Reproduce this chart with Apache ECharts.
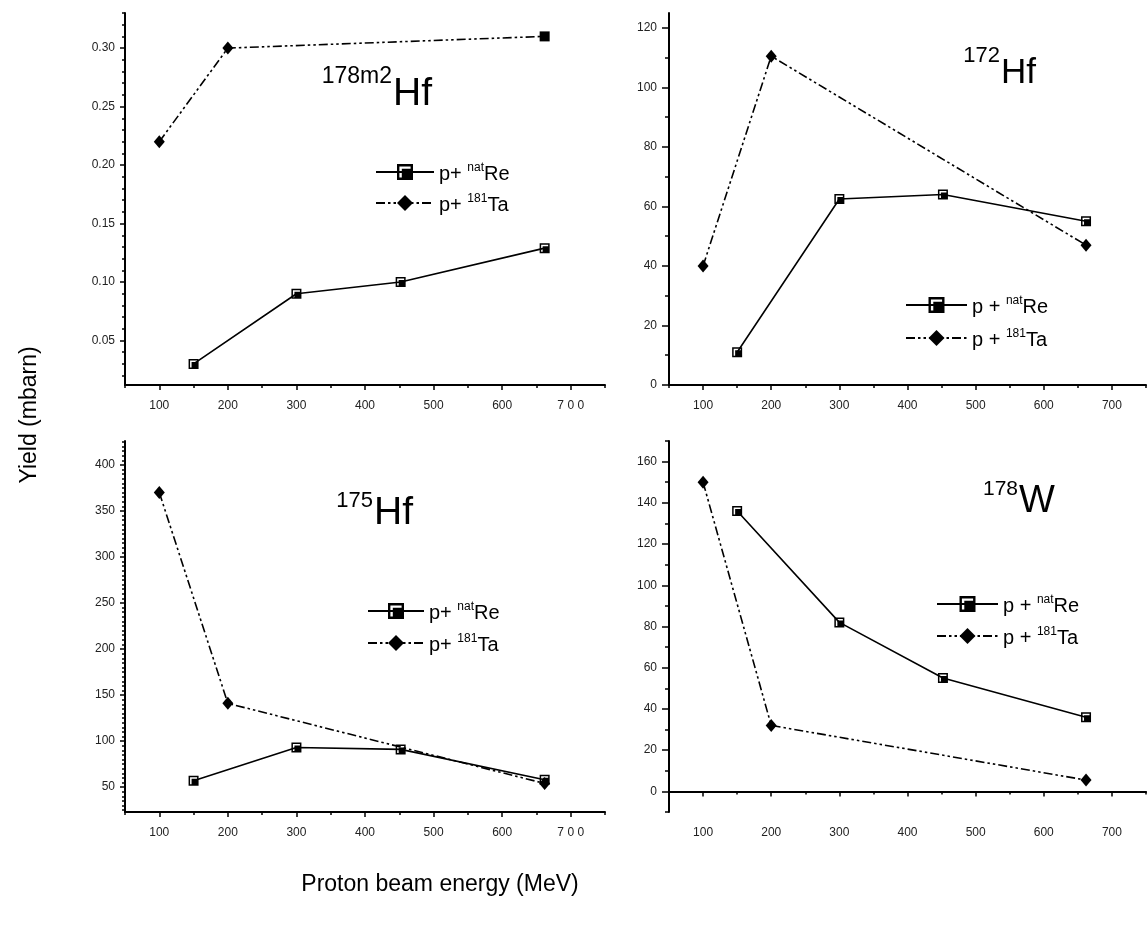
<!DOCTYPE html>
<html>
<head>
<meta charset="utf-8">
<style>
  html, body { margin: 0; background: #fff; }
  #chart { width: 1147px; height: 931px; }
</style>
<script src="https://cdn.jsdelivr.net/npm/echarts@6/dist/echarts.min.js"></script>
</head>
<body>
<div id="chart"></div>
<script>
// proton energies (MeV) of the measured points
const reEnergy = [150, 300, 452, 662];
const taEnergy = [100, 200, 662];
const xTicks = [100, 200, 300, 400, 500, 600, 700];

// 178m2Hf
const hf178m2Re = [0.030, 0.090, 0.100, 0.129];
const hf178m2Ta = [0.220, 0.300, 0.310];
const hf178m2Ticks = [0.05, 0.10, 0.15, 0.20, 0.25, 0.30];
// 172Hf
const hf172Re = [11, 62.5, 64, 55];
const hf172Ta = [40, 110.5, 47];
const hf172Ticks = [0, 20, 40, 60, 80, 100, 120];
// 175Hf
const hf175Re = [57, 93, 91, 58];
const hf175Ta = [370, 141, 54];
const hf175Ticks = [50, 100, 150, 200, 250, 300, 350, 400];
// 178W
const w178Re = [136, 82, 55, 36];
const w178Ta = [150, 32, 5.5];
const w178Ticks = [0, 20, 40, 60, 80, 100, 120, 140, 160];

const FONT = '"Liberation Sans", Arial, sans-serif';
// square with a white inner rim, like the original markers
const RE_SYMBOL = 'path://M0 0H10V10H0Z M1.5 1.5V8.5H8.5V1.5Z M3 3H8.5V8.5H3Z';
const TA_DASH = [9, 3, 2.5, 3, 2.5, 3];

const panels = [
  {
    grid: { left: 125, top: 13, width: 480, height: 372 },
    yMin: 0.012, yMax: 0.33, yTicks: hf178m2Ticks, yStep: 0.01, tickLen: 5,
    yFmt: v => v.toFixed(2), x700: '7 0 0',
    re: hf178m2Re, ta: hf178m2Ta, taLastRect: true,
    legend: { left: 375, top: 162, w: 58, gap: 9, sep: 'p+ ' },
    title: { sup: '178m2', main: 'Hf', x: 392, supY: 77, mainY: 94, supSize: 23, mainSize: 39 }
  },
  {
    grid: { left: 669, top: 13, width: 477, height: 372 },
    yMin: 0, yMax: 125, yTicks: hf172Ticks, yStep: 10, tickLen: 7,
    yFmt: v => String(v), x700: '700',
    re: hf172Re, ta: hf172Ta,
    legend: { left: 905, top: 295, w: 61, gap: 11, sep: 'p + ' },
    title: { sup: '172', main: 'Hf', x: 1000, supY: 56, mainY: 73, supSize: 22, mainSize: 35 }
  },
  {
    grid: { left: 125, top: 441, width: 480, height: 371 },
    yMin: 23, yMax: 426, yTicks: hf175Ticks, yStep: 5, tickLen: 5,
    yFmt: v => String(v), x700: '7 0 0',
    re: hf175Re, ta: hf175Ta,
    legend: { left: 367, top: 601, w: 56, gap: 10, sep: 'p+ ' },
    title: { sup: '175', main: 'Hf', x: 373, supY: 501, mainY: 513, supSize: 22, mainSize: 39 }
  },
  {
    grid: { left: 669, top: 441, width: 477, height: 371 },
    yMin: -10, yMax: 170, yTicks: w178Ticks, yStep: 10, tickLen: 7,
    yFmt: v => String(v), x700: '700',
    re: w178Re, ta: w178Ta,
    legend: { left: 936, top: 594, w: 61, gap: 10, sep: 'p + ' },
    title: { sup: '178', main: 'W', x: 1018, supY: 489.5, mainY: 502, supSize: 21, mainSize: 38 }
  }
];

function minorValues(min, max, step, majors) {
  const out = [];
  const n0 = Math.ceil(min / step - 1e-9), n1 = Math.floor(max / step + 1e-9);
  for (let k = n0; k <= n1; k++) {
    const v = +(k * step).toFixed(6);
    if (!majors.some(m => Math.abs(m - v) < 1e-9)) out.push(v);
  }
  return out;
}

const grid = [], xAxis = [], yAxis = [], series = [], legend = [], graphic = [];
const xMinor = minorValues(50, 750, 50, xTicks);

panels.forEach((p, i) => {
  grid.push(p.grid);

  // main x axis + an overlaid one carrying the short ticks
  xAxis.push({
    gridIndex: i, type: 'value', position: 'bottom', min: 50, max: 750,
    axisLine: { lineStyle: { color: '#000', width: 2 } },
    axisTick: { customValues: xTicks, length: 5, lineStyle: { color: '#000', width: 1.5 } },
    axisLabel: {
      customValues: xTicks, margin: 15, color: '#222', fontSize: 12, fontFamily: FONT,
      formatter: v => (v === 700 ? p.x700 : String(v))
    },
    splitLine: { show: false }
  });
  xAxis.push({
    gridIndex: i, type: 'value', position: 'bottom', min: 50, max: 750,
    axisLine: { show: false },
    axisTick: { customValues: xMinor, length: 3, lineStyle: { color: '#000', width: 1.5 } },
    axisLabel: { show: false },
    splitLine: { show: false }
  });

  yAxis.push({
    gridIndex: i, type: 'value', position: 'left', min: p.yMin, max: p.yMax,
    axisLine: { show: true, lineStyle: { color: '#000', width: 2 } },
    axisTick: { show: true, customValues: p.yTicks, length: p.tickLen, lineStyle: { color: '#000', width: 1.5 } },
    axisLabel: { customValues: p.yTicks, margin: p.tickLen + 5, color: '#222', fontSize: 12, fontFamily: FONT, formatter: p.yFmt },
    splitLine: { show: false }
  });
  yAxis.push({
    gridIndex: i, type: 'value', position: 'left', min: p.yMin, max: p.yMax,
    axisLine: { show: false },
    axisTick: {
      show: true, customValues: minorValues(p.yMin, p.yMax, p.yStep, p.yTicks),
      length: Math.round(p.tickLen * 0.55), lineStyle: { color: '#000', width: 1.5 }
    },
    axisLabel: { show: false },
    splitLine: { show: false }
  });

  const reName = 'Re' + i, taName = 'Ta' + i;
  series.push({
    name: reName, type: 'line', xAxisIndex: 2 * i, yAxisIndex: 2 * i,
    data: reEnergy.map((x, k) => [x, p.re[k]]),
    symbol: RE_SYMBOL, symbolSize: 10,
    itemStyle: { color: '#000' },
    lineStyle: { color: '#000', width: 1.6 },
    z: 3
  });
  series.push({
    name: taName, type: 'line', xAxisIndex: 2 * i, yAxisIndex: 2 * i,
    data: taEnergy.map((x, k) => {
      const pt = { value: [x, p.ta[k]] };
      if (p.taLastRect && k === taEnergy.length - 1) { pt.symbol = 'rect'; pt.symbolSize = 10; }
      return pt;
    }),
    symbol: 'diamond', symbolSize: [11, 13],
    itemStyle: { color: '#000' },
    lineStyle: { color: '#000', width: 1.6, type: TA_DASH },
    z: 2
  });

  legend.push({
    orient: 'vertical', left: p.legend.left, top: p.legend.top,
    itemWidth: p.legend.w, itemHeight: 20, itemGap: p.legend.gap,
    selectedMode: false, padding: 0,
    data: [reName, taName],
    formatter: name => name.startsWith('Re')
      ? '{t|' + p.legend.sep + '}{s|nat}{t|Re}'
      : '{t|' + p.legend.sep + '}{s|181}{t|Ta}',
    textStyle: {
      rich: {
        t: { fontSize: 20, fontFamily: FONT, color: '#000', lineHeight: 24, verticalAlign: 'bottom' },
        s: { fontSize: 12, fontFamily: FONT, color: '#000', verticalAlign: 'top', padding: [2, 0, 0, 0] }
      }
    }
  });

  const t = p.title;
  graphic.push({
    type: 'text', x: t.x, y: t.supY,
    style: { text: t.sup, fontSize: t.supSize, fontFamily: FONT, fill: '#000', align: 'right', verticalAlign: 'middle' }
  });
  graphic.push({
    type: 'text', x: t.x + 1, y: t.mainY,
    style: { text: t.main, fontSize: t.mainSize, fontFamily: FONT, fill: '#000', align: 'left', verticalAlign: 'middle' }
  });
});

graphic.push({
  type: 'text', x: 30, y: 415, rotation: Math.PI / 2,
  style: { text: 'Yield (mbarn)', fontSize: 23, fontFamily: FONT, fill: '#000', align: 'center', verticalAlign: 'middle' }
});
graphic.push({
  type: 'text', x: 440, y: 885,
  style: { text: 'Proton beam energy (MeV)', fontSize: 23, fontFamily: FONT, fill: '#000', align: 'center', verticalAlign: 'middle' }
});

const myChart = echarts.init(document.getElementById('chart'));
myChart.setOption({
  animation: false,
  backgroundColor: '#fff',
  grid, xAxis, yAxis, series, legend, graphic
});
window.addEventListener('resize', () => myChart.resize());
</script>
</body>
</html>
